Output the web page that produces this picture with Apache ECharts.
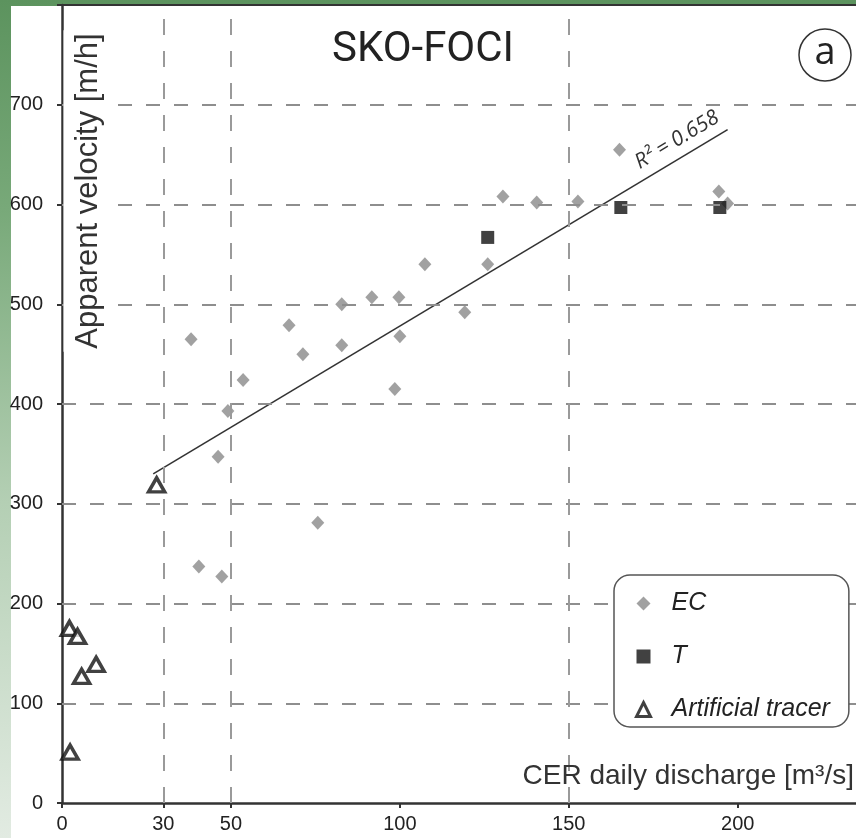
<!DOCTYPE html>
<html>
<head>
<meta charset="utf-8">
<script src="https://cdn.jsdelivr.net/npm/echarts@6/dist/echarts.min.js"></script>
<style>
  html, body { margin: 0; padding: 0; }
  body {
    width: 856px; height: 838px; overflow: hidden; position: relative;
    background: linear-gradient(to bottom, #5c935e 0%, #78a979 25%, #b4cfb4 60%, #e2ebe2 100%);
  }
  #paper { position: absolute; left: 11px; top: 6px; right: 0; bottom: 0; background: #fff; }
  #chart { position: absolute; left: 0; top: 0; width: 856px; height: 838px; }
</style>
</head>
<body>
<div id="paper"></div>
<div id="chart"></div>
<script>
// EC points (discharge m3/s, velocity m/h)
var ecX = [38.2, 40.5, 46.2, 47.3, 49.1, 53.6, 67.2, 71.3, 75.7, 82.8, 82.8, 91.7, 99.7, 100, 98.5, 107.4, 119.2, 126, 130.5, 140.5, 152.7, 165, 194.4, 197];
var ecY = [465, 237, 347, 227, 393, 424, 479, 450, 281, 500, 459, 507, 507, 468, 415, 540, 492, 540, 608, 602, 603, 655, 613, 601];
// T points
var tX = [126, 165.4, 194.7];
var tY = [567, 597, 597];
// artificial tracer
var tracerX = [2.2, 4.6, 5.8, 10.1, 2.4, 28];
var tracerY = [175, 167, 127, 139, 51, 319];
// regression line ends
var trendX = [27, 197];
var trendY = [330, 675];

var xTicks = [0, 30, 50, 100, 150, 200];
var xGrid = [30, 50, 150];
var yGrid = [100, 200, 300, 400, 500, 600, 700];
var legendNames = ["EC", "T", "Artificial tracer"];

function pairs(xs, ys) {
    return xs.map(function (x, i) { return [x, ys[i]]; });
}

var font = "'Liberation Sans', Arial, sans-serif";
var chart = echarts.init(document.getElementById("chart"), null, {renderer: "canvas"});

var gridLines = [];
yGrid.forEach(function (v) {
    gridLines.push({yAxis: v, lineStyle: {type: [14, 14], color: "#8e8e8e", width: 2}});
});
xGrid.forEach(function (v) {
    gridLines.push({xAxis: v, lineStyle: {type: [16, 16], color: "#9a9a9a", width: 2}});
});

var option = {
    animation: false,
    backgroundColor: "transparent",
    grid: {left: 62, right: 0, top: 5, bottom: 35},
    xAxis: [{
        type: "value", min: 0, max: 235,
        axisLine: {lineStyle: {color: "#333", width: 2.5}},
        axisTick: {show: true, length: 5, customValues: xTicks, lineStyle: {color: "#333", width: 2}},
        axisLabel: {customValues: xTicks, fontSize: 20, color: "#222", fontFamily: font, margin: 11},
        splitLine: {show: false}
    }, {
        type: "value", min: 0, max: 235, position: "top",
        axisLine: {show: true, lineStyle: {color: "#333", width: 2}},
        axisTick: {show: false}, axisLabel: {show: false}, splitLine: {show: false}
    }],
    yAxis: {
        type: "value", min: 0, max: 800, interval: 100,
        axisLine: {show: true, lineStyle: {color: "#333", width: 2.5}},
        axisTick: {show: true, length: 5, lineStyle: {color: "#333", width: 2}},
        axisLabel: {
            fontSize: 20, color: "#222", fontFamily: font, margin: 19,
            formatter: function (v) { return v === 800 ? "" : String(v); }
        },
        splitLine: {show: false}
    },
    legend: {
        orient: "vertical", left: 614, top: 575, z: 10,
        padding: [16, 19, 5, 21], itemGap: 28, itemWidth: 14, itemHeight: 14,
        borderColor: "#555", borderWidth: 1.5, borderRadius: 16, backgroundColor: "#fff",
        formatter: function (n) { return "{gap|}{txt|" + n + "}"; },
        textStyle: {
            fontStyle: "italic", fontSize: 25, color: "#222", fontFamily: font,
            rich: {
                gap: {width: 16},
                txt: {fontStyle: "italic", fontSize: 25, color: "#222", fontFamily: font}
            }
        },
        data: [
            {name: legendNames[0]},
            {name: legendNames[1], itemStyle: {color: "#111"}},
            {name: legendNames[2], itemStyle: {borderWidth: 3, borderColor: "#111"}}
        ]
    },
    series: [{
        name: "trend", type: "line", data: pairs(trendX, trendY),
        showSymbol: false, silent: true,
        lineStyle: {color: "#333", width: 1.6},
        markLine: {silent: true, symbol: ["none", "none"], label: {show: false}, data: gridLines}
    }, {
        name: "EC", type: "scatter", data: pairs(ecX, ecY),
        symbol: "diamond", symbolSize: [13, 14],
        itemStyle: {color: "#8a8a8a"}
    }, {
        name: "T", type: "scatter", data: pairs(tX, tY),
        symbol: "rect", symbolSize: 13,
        itemStyle: {color: "#111"}
    }, {
        name: "Artificial tracer", type: "scatter", data: pairs(tracerX, tracerY),
        symbol: "triangle", symbolSize: [16, 14],
        itemStyle: {color: "#fff", borderColor: "#111", borderWidth: 3.5}
    }],
    graphic: [{
        type: "text", x: 423, y: 50, z: 100,
        style: {text: "SKO-FOCI", fontSize: 42, fontFamily: "Roboto, 'Liberation Sans', sans-serif",
            fill: "#222", align: "center", verticalAlign: "middle"}
    }, {
        type: "circle", z: 100, shape: {cx: 825, cy: 55, r: 26},
        style: {fill: "#fff", stroke: "#333", lineWidth: 1.5}
    }, {
        type: "text", x: 825, y: 53, z: 101,
        style: {text: "a", fontSize: 38, fontFamily: "'Open Sans', sans-serif", fill: "#222",
            align: "center", verticalAlign: "middle"}
    }, {
        type: "text", x: 88, y: 191, z: 100, rotation: Math.PI / 2,
        style: {text: "Apparent velocity [m/h]", fontSize: 31, fontFamily: font, fill: "#333",
            align: "center", verticalAlign: "middle", backgroundColor: "#fff", padding: [9, 3]}
    }, {
        type: "text", x: 854, y: 776, z: 100,
        style: {text: "CER daily discharge [m\u00b3/s]", fontSize: 28, fontFamily: font, fill: "#333",
            align: "right", verticalAlign: "middle"}
    }, {
        type: "text", x: 677, y: 140, z: 100, rotation: 0.54,
        style: {text: "R\u00b2 = 0.658", fontSize: 21, fontStyle: "italic", fontFamily: "'Open Sans', sans-serif",
            fill: "#333", align: "center", verticalAlign: "middle"}
    }]
};
chart.setOption(option);
</script>
</body>
</html>
